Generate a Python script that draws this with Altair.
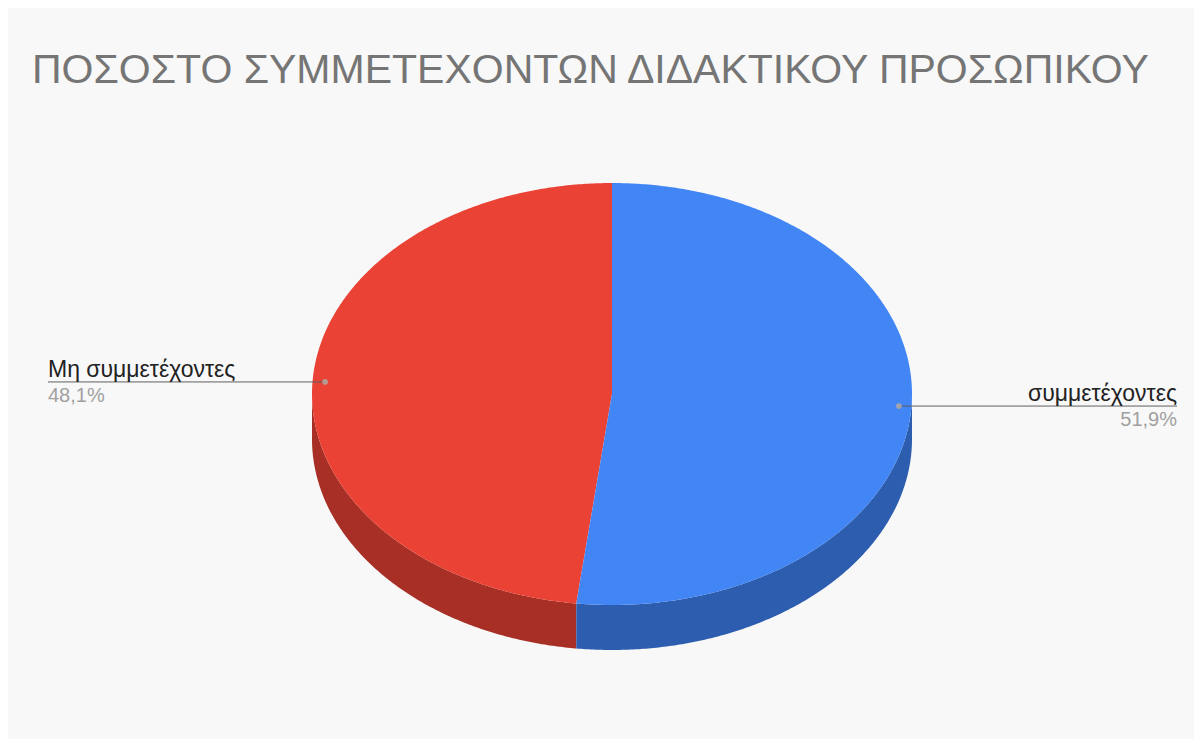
import numpy as np
import pandas as pd
import altair as alt

# ---- data ----
title_text = "ΠΟΣΟΣΤΟ ΣΥΜΜΕΤΕΧΟΝΤΩΝ ΔΙΔΑΚΤΙΚΟΥ ΠΡΟΣΩΠΙΚΟΥ"
categories = ["συμμετέχοντες", "Μη συμμετέχοντες"]
values = [51.9, 48.1]
pct_labels = ["51,9%", "48,1%"]

# ---- style / layout ----
top_colors = ["#4285f4", "#ea4335"]
side_colors = ["#2d5dae", "#a82f26"]
W, H = 1186, 731
CX, CY, A, B, D = 612.0, 394.0, 300.0, 211.0, 45.0
LEFT_EDGE, RIGHT_EDGE = 48.0, 1177.0
EPS = 0.02

total = sum(values)
fr = np.cumsum([0] + values) / total
angles = fr * 2 * np.pi  # clockwise from 12 o'clock
T = angles[1]  # boundary between slice 0 (blue) and slice 1 (red)
Px = float(CX + A * np.sin(T))
Py = float(CY - B * np.cos(T))


def yt(x):
    return float(CY - B * np.sqrt(max(0.0, 1 - ((x - CX) / A) ** 2)))


def yb(x):
    return float(CY + B * np.sqrt(max(0.0, 1 - ((x - CX) / A) ** 2)))


def radial(x):
    return float(CY + (x - CX) * (Py - CY) / (Px - CX))


u = np.linspace(-np.pi / 2, np.pi / 2, 361)
base = [float(v) for v in CX + A * np.sin(u)]
xs = sorted(set([round(v, 4) for v in base if abs(v - Px) > 0.05 and abs(v - CX) > 0.05] + [Px, CX]))

rows = []
# side walls (front half of the rim)
for x in xs:
    if x <= Px:
        rows.append(dict(key=categories[1] + " side", x=x, y=yb(x), y2=yb(x) + D))
    if x >= Px:
        rows.append(dict(key=categories[0] + " side", x=x, y=yb(x), y2=yb(x) + D))
# top faces
for x in xs:
    if x <= CX:
        bot = yb(x) if x <= Px else radial(x)
        rows.append(dict(key=categories[1], x=x, y=yt(x), y2=bot))
for x in xs:
    if Px <= x < CX:
        rows.append(dict(key=categories[0], x=x, y=radial(x), y2=yb(x)))
    elif x == CX:
        rows.append(dict(key=categories[0], x=CX - EPS, y=CY, y2=yb(x)))
        rows.append(dict(key=categories[0], x=CX, y=yt(x), y2=yb(x)))
    elif x > CX:
        rows.append(dict(key=categories[0], x=x, y=yt(x), y2=yb(x)))
shape_df = pd.DataFrame(rows)

keys = [categories[0] + " side", categories[1] + " side", categories[0], categories[1]]
key_colors = [side_colors[0], side_colors[1], top_colors[0], top_colors[1]]

# label anchors
lab = []
for i, c in enumerate(categories):
    tm = (angles[i] + angles[i + 1]) / 2
    dx = CX + 0.958 * A * np.sin(tm)
    dy = CY - 0.958 * B * np.cos(tm)
    left = np.sin(tm) < 0
    lab.append(dict(name=c, pct=pct_labels[i], dx=float(dx), dy=float(dy),
                    ex=LEFT_EDGE if left else RIGHT_EDGE,
                    align="left" if left else "right"))
lab_df = pd.DataFrame(lab)

xsc = alt.Scale(domain=[8, 8 + W], nice=False, zero=False)
ysc = alt.Scale(domain=[8, 8 + H], nice=False, zero=False, reverse=True)

shapes = alt.Chart(shape_df).mark_area(orient="vertical").encode(
    x=alt.X("x:Q", scale=xsc, axis=None),
    y=alt.Y("y:Q", scale=ysc, axis=None),
    y2="y2:Q",
    color=alt.Color("key:N", scale=alt.Scale(domain=keys, range=key_colors), legend=None),
)

lines = alt.Chart(lab_df).mark_rule(color="#5f5f5f", strokeWidth=1).encode(
    x=alt.X("dx:Q", scale=xsc, axis=None),
    x2="ex:Q",
    y=alt.Y("dy:Q", scale=ysc, axis=None),
)

dots = alt.Chart(lab_df).mark_point(filled=True, color="#b0a8a0", opacity=0.85, size=32).encode(
    x=alt.X("dx:Q", scale=xsc, axis=None),
    y=alt.Y("dy:Q", scale=ysc, axis=None),
)

FONT = "Liberation Sans"


def label_layer(side):
    sub = lab_df[lab_df["align"] == side]
    name = alt.Chart(sub).mark_text(
        align=side, baseline="alphabetic", dy=-5, fontSize=23, font=FONT, color="#222222"
    ).encode(x=alt.X("ex:Q", scale=xsc, axis=None), y=alt.Y("dy:Q", scale=ysc, axis=None), text="name:N")
    pct = alt.Chart(sub).mark_text(
        align=side, baseline="top", dy=4, fontSize=20, font=FONT, color="#a0a0a0"
    ).encode(x=alt.X("ex:Q", scale=xsc, axis=None), y=alt.Y("dy:Q", scale=ysc, axis=None), text="pct:N")
    return name + pct


title_df = pd.DataFrame({"t": [title_text], "x": [32.0], "y": [83.0]})
title = alt.Chart(title_df).mark_text(
    align="left", baseline="alphabetic", fontSize=41, font=FONT, color="#757575"
).encode(x=alt.X("x:Q", scale=xsc, axis=None), y=alt.Y("y:Q", scale=ysc, axis=None), text="t:N")

chart = alt.layer(shapes, lines, dots, label_layer("left"), label_layer("right"), title).properties(
    width=W, height=H, padding=0, autosize=alt.AutoSizeParams(type="none"), background="#f8f8f8"
).configure_view(stroke=None)

chart.save("out.html", embed_options={"renderer": "svg", "actions": False})
